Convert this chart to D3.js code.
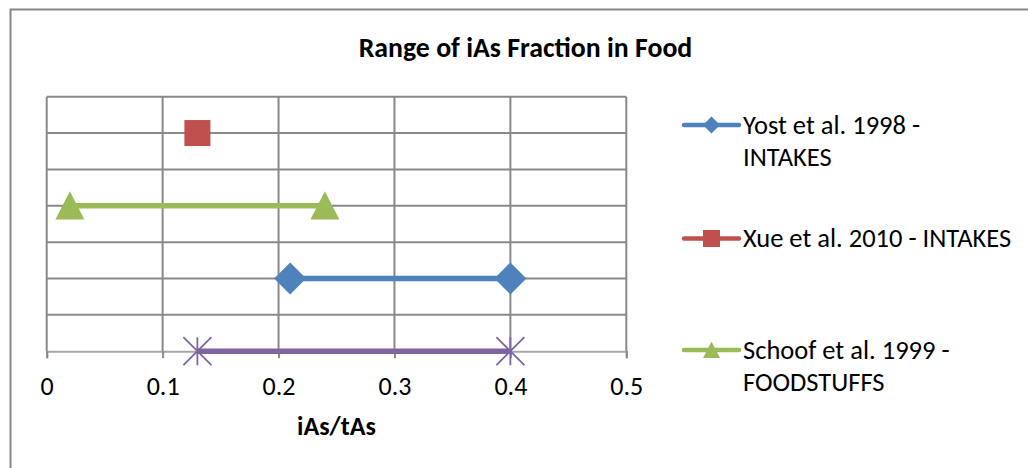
<!DOCTYPE html>
<html>
<head>
<meta charset="utf-8">
<script src="https://cdn.jsdelivr.net/npm/d3@7/dist/d3.min.js"></script>
<style>
  html, body { margin: 0; padding: 0; background: #fff; }
  svg { display: block; }
  text { font-family: Carlito, Calibri, Lato, sans-serif; fill: #000; }
</style>
</head>
<body>
<svg id="chart" width="1028" height="468"></svg>
<script>
// ---- data ----
const chartTitle = "Range of iAs Fraction in Food";
const xAxisTitle = "iAs/tAs";
const xTicks = [0, 0.1, 0.2, 0.3, 0.4, 0.5];
const yTicks = [0, 0.5, 1, 1.5, 2, 2.5, 3, 3.5];
const seriesNames = ["Yost et al. 1998 - INTAKES", "Xue et al. 2010 - INTAKES", "Schoof et al. 1999 - FOODSTUFFS", "Series 4"];
const legendLines = [["Yost et al. 1998 -", "INTAKES"], ["Xue et al. 2010 - INTAKES"], ["Schoof et al. 1999 -", "FOODSTUFFS"]];
const seriesColors = ["#4F81BD", "#C0504D", "#9BBB59", "#8064A2"];
const seriesMarkers = ["diamond", "square", "triangle", "star"];
const yostX = [0.21, 0.40];   const yostY = [1, 1];
const xueX = [0.13];          const xueY = [3];
const schoofX = [0.02, 0.24]; const schoofY = [2, 2];
const series4X = [0.13, 0.40]; const series4Y = [0, 0];

const seriesX = [yostX, xueX, schoofX, series4X];
const seriesY = [yostY, xueY, schoofY, series4Y];

// ---- layout ----
const svg = d3.select("#chart");
const plot = { left: 46.7, right: 626.3, top: 96.7, bottom: 351.2 };
const x = d3.scaleLinear().domain([0, 0.5]).range([plot.left, plot.right]);
const y = d3.scaleLinear().domain([0, 3.5]).range([plot.bottom, plot.top]);

// outer chart border (top + left visible)
svg.append("path")
  .attr("d", `M10.5,468 L10.5,9.5 L1028,9.5`)
  .attr("fill", "none").attr("stroke", "#868686").attr("stroke-width", 2);

// title
svg.append("text").attr("x", 525.5).attr("y", 56.5)
  .attr("text-anchor", "middle").attr("font-weight", "bold").attr("font-size", 27.8)
  .text(chartTitle);

// horizontal gridlines
svg.append("g").selectAll("line").data(yTicks.filter(d => d > 0)).join("line")
  .attr("x1", plot.left).attr("x2", plot.right)
  .attr("y1", d => y(d)).attr("y2", d => y(d))
  .attr("stroke", "#898989").attr("stroke-width", 2);

// vertical gridlines
svg.append("g").selectAll("line").data(xTicks).join("line")
  .attr("x1", d => x(d)).attr("x2", d => x(d))
  .attr("y1", plot.top).attr("y2", plot.bottom)
  .attr("stroke", "#898989").attr("stroke-width", 2);

// x axis with ticks
const xAxis = d3.axisBottom(x).tickValues(xTicks).tickSize(7).tickPadding(18)
  .tickFormat(d => d === 0 ? "0" : d3.format(".1f")(d));
const gx = svg.append("g").attr("transform", `translate(0,${plot.bottom})`).call(xAxis);
gx.select(".domain").attr("stroke", "#a6a6a6").attr("stroke-width", 2);
gx.selectAll(".tick line").attr("stroke", "#898989").attr("stroke-width", 2);
gx.selectAll(".tick text").attr("font-size", 26).attr("font-family", "Carlito, Calibri, Lato, sans-serif")
  .attr("fill", "#000");

// x axis title
svg.append("text").attr("x", (plot.left + plot.right) / 2).attr("y", 435)
  .attr("text-anchor", "middle").attr("font-weight", "bold").attr("font-size", 26)
  .text(xAxisTitle);

// marker drawing
function drawMarker(g, type, cx, cy, size, color) {
  const h = size / 2;
  if (type === "diamond") {
    g.append("path").attr("d", `M${cx},${cy - h} L${cx + h},${cy} L${cx},${cy + h} L${cx - h},${cy} Z`)
      .attr("fill", color);
  } else if (type === "square") {
    g.append("rect").attr("x", cx - h).attr("y", cy - h).attr("width", size).attr("height", size)
      .attr("fill", color);
  } else if (type === "triangle") {
    g.append("path").attr("d", `M${cx},${cy - h} L${cx + h},${cy + h * 0.95} L${cx - h},${cy + h * 0.95} Z`)
      .attr("fill", color);
  } else if (type === "star") {
    g.append("path").attr("d",
      `M${cx - h},${cy - h} L${cx + h},${cy + h} M${cx + h},${cy - h} L${cx - h},${cy + h} M${cx},${cy - h} L${cx},${cy + h}`)
      .attr("stroke", color).attr("stroke-width", 1.8).attr("fill", "none");
  }
}
const plotMarkerSize = { diamond: 32, square: 26, triangle: 29, star: 28 };

const line = d3.line().x(d => x(d[0])).y(d => y(d[1]));
const gSeries = svg.append("g");
seriesX.forEach((xs, i) => {
  const pts = xs.map((v, j) => [v, seriesY[i][j]]);
  const g = gSeries.append("g");
  if (pts.length > 1) {
    g.append("path").attr("d", line(pts)).attr("fill", "none")
      .attr("stroke", seriesColors[i]).attr("stroke-width", 5.5);
  }
  pts.forEach(p => drawMarker(g, seriesMarkers[i], x(p[0]), y(p[1]), plotMarkerSize[seriesMarkers[i]], seriesColors[i]));
});

// legend
const legendRows = [
  { lineY: 125, textY: [134, 166] },
  { lineY: 238.5, textY: [247] },
  { lineY: 350, textY: [359, 391] }
];
const legendMarkerSize = { diamond: 17, square: 17, triangle: 17 };
const gLeg = svg.append("g");
legendLines.forEach((lines, i) => {
  const r = legendRows[i];
  gLeg.append("line").attr("x1", 684).attr("x2", 739).attr("y1", r.lineY).attr("y2", r.lineY)
    .attr("stroke", seriesColors[i]).attr("stroke-width", 4.5).attr("stroke-linecap", "round");
  drawMarker(gLeg, seriesMarkers[i], 711.5, r.lineY, legendMarkerSize[seriesMarkers[i]], seriesColors[i]);
  lines.forEach((t, k) => {
    gLeg.append("text").attr("x", 743).attr("y", r.textY[k]).attr("font-size", 26.5).text(t);
  });
});
</script>
</body>
</html>
